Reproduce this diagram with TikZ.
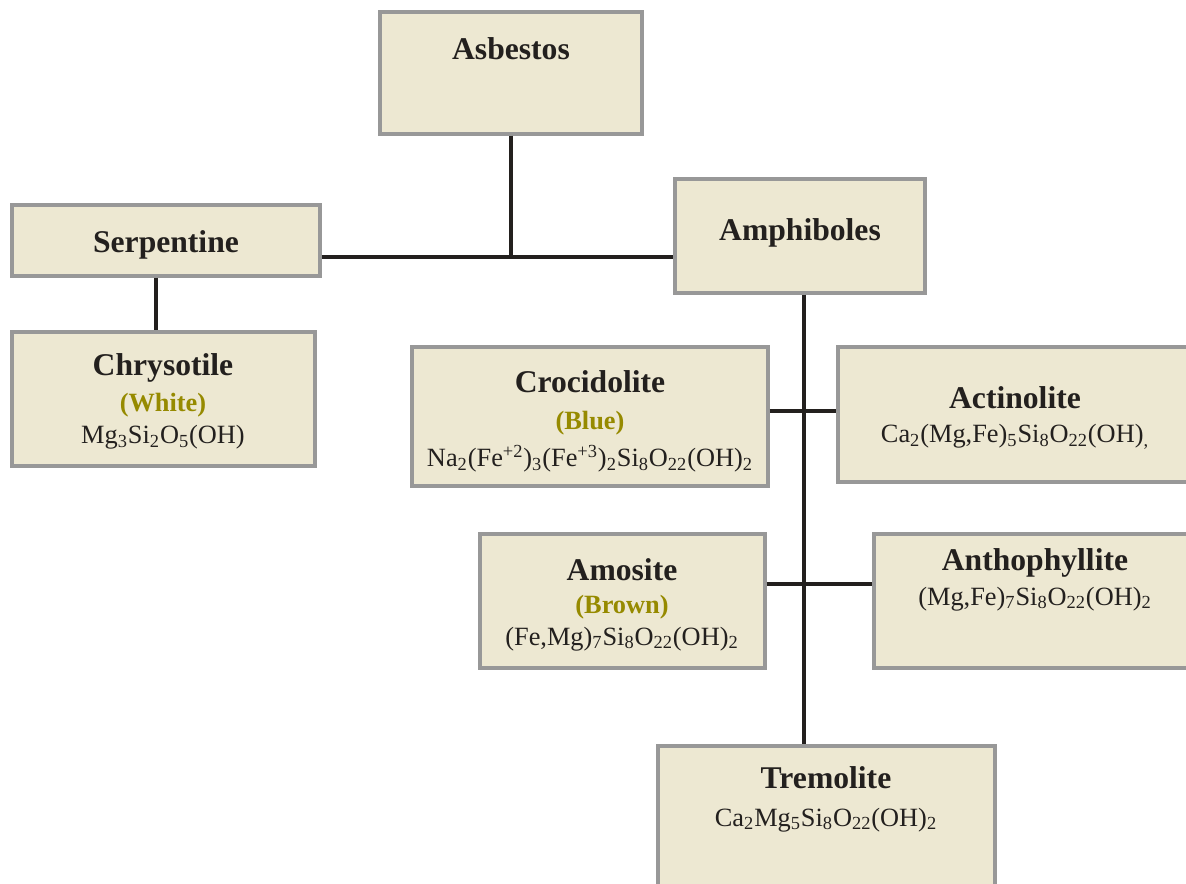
\documentclass[tikz,border=0pt]{standalone}
\usepackage{fontspec}
\setmainfont{Liberation Serif}
\usetikzlibrary{positioning,fit}
\definecolor{boxfill}{RGB}{237,232,210}
\definecolor{boxline}{RGB}{152,152,152}
\definecolor{shade}{RGB}{150,138,0}
\definecolor{wire}{RGB}{35,32,30}
\newcommand{\sub}[1]{\textsubscript{#1}}
\newcommand{\sups}[1]{\textsuperscript{#1}}

\begin{document}
\begin{tikzpicture}[x=0.02cm,y=-0.02cm,
            box/.style={draw=boxline,fill=boxfill,line width=1.8pt,inner sep=0pt},
            title/.style={anchor=base,inner sep=0pt,text=wire,
                    font=\fontsize{18}{20}\selectfont\bfseries},
            tint/.style={anchor=base,inner sep=0pt,text=shade,
                    font=\fontsize{15}{18}\selectfont\bfseries},
            formula/.style={anchor=base,inner sep=0pt,text=wire,
                    font=\fontsize{15}{18}\selectfont},
            link/.style={draw=wire,line width=2pt}]

        \useasboundingbox (0,0) rectangle (1186,884);
        \clip (0,0) rectangle (1186,884);

        % boxes
        \node[box,fit={(380,12) (642,134)}] (asb) {};
        \node[box,fit={(12,205) (320,276)}] (serp) {};
        \node[box,fit={(675,179) (925,293)}] (amph) {};
        \node[box,fit={(12,332) (315,466)}] (chry) {};
        \node[box,fit={(412,347) (768,486)}] (croc) {};
        \node[box,fit={(838,347) (1192,482)}] (act) {};
        \node[box,fit={(480,534) (765,668)}] (amo) {};
        \node[box,fit={(874,534) (1196,668)}] (anth) {};
        \node[box,fit={(658,746) (995,910)}] (trem) {};

        % connectors
        \coordinate (hub) at (511,257);
        \coordinate (crocrow) at (804,411);
        \coordinate (amorow) at (804,584);
        \draw[link] (asb) -- (hub);
        \draw[link] (serp.east |- hub) -- (amph.west |- hub);
        \draw[link] ([xshift=-0.2cm]serp.south) -- ([xshift=-0.2cm]serp.south |- chry.north);
        \draw[link] ([xshift=0.08cm]amph.south) -- ([xshift=0.08cm]amph.south |- trem.north);
        \draw[link] (croc.east |- crocrow) -- (act.west |- crocrow);
        \draw[link] (amo.east |- amorow) -- (anth.west |- amorow);

        % texts
        \node[title] (asbt) at (511,60) {Asbestos};
        \node[title] (serpt) at (166,253) {Serpentine};
        \node[title] (ampht) at (800,241) {Amphiboles};

        \node[title] (chryt) at (163,376) {Chrysotile};
        \node[tint] (chryc) at (163,412) {(White)};
        \node[formula] (chryf) at (163,444) {Mg\sub{3}Si\sub{2}O\sub{5}(OH)};

        \node[title] (croct) at (590,393) {Crocidolite};
        \node[tint] (crocc) at (590,430) {(Blue)};
        \node[formula] (crocf) at (590,467)
            {Na\sub{2}(Fe\sups{+2})\sub{3}(Fe\sups{+3})\sub{2}Si\sub{8}O\sub{22}(OH)\sub{2}};

        \node[title] (actt) at (1015,409) {Actinolite};
        \node[formula] (actf) at (1015,443) {Ca\sub{2}(Mg,Fe)\sub{5}Si\sub{8}O\sub{22}(OH)\sub{,}};

        \node[title] (amot) at (622,581) {Amosite};
        \node[tint] (amoc) at (622,613) {(Brown)};
        \node[formula] (amof) at (622,645) {(Fe,Mg)\sub{7}Si\sub{8}O\sub{22}(OH)\sub{2}};

        \node[title] (antht) at (1035,571) {Anthophyllite};
        \node[formula] (anthf) at (1035,605) {(Mg,Fe)\sub{7}Si\sub{8}O\sub{22}(OH)\sub{2}};

        \node[title] (tremt) at (826,788) {Tremolite};
        \node[formula] (tremf) at (826,826) {Ca\sub{2}Mg\sub{5}Si\sub{8}O\sub{22}(OH)\sub{2}};
    \end{tikzpicture}
\end{document}
